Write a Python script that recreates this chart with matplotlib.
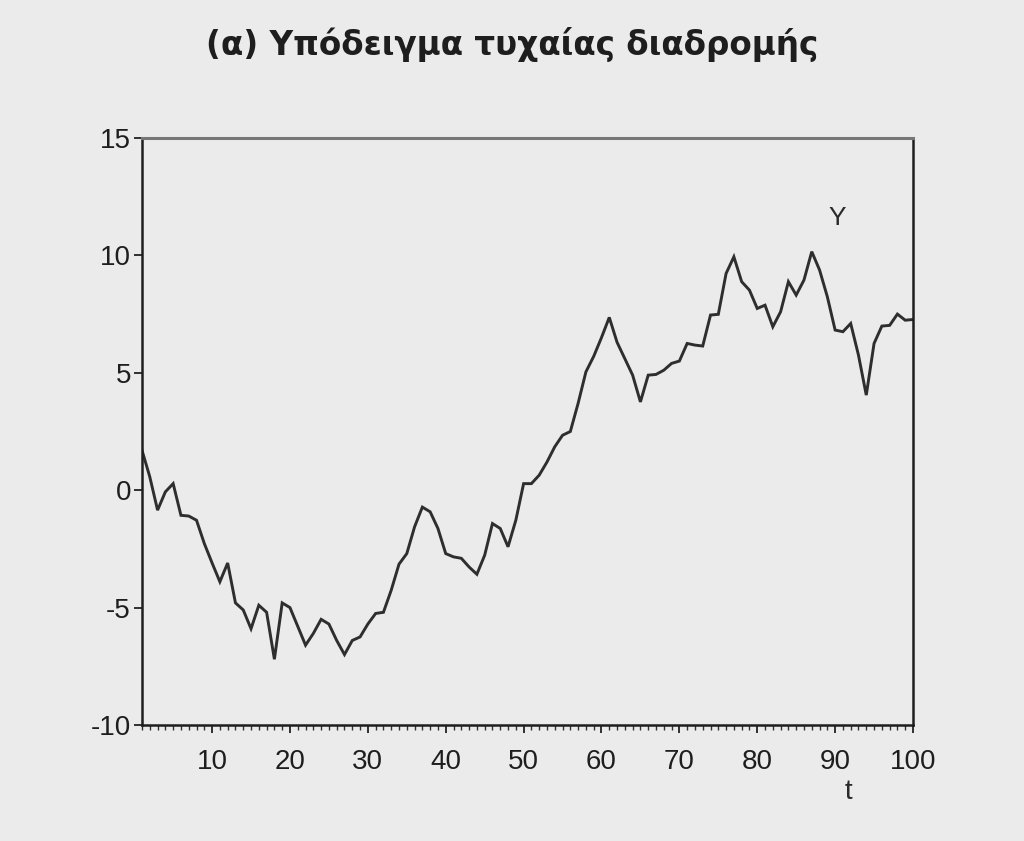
import matplotlib
matplotlib.use("Agg")
import matplotlib.pyplot as plt
from matplotlib.ticker import MultipleLocator

plt.rcParams["axes.unicode_minus"] = False

# ---- data ----
t = list(range(1, 101))
y_values = [
    1.7, 0.57, -0.85, -0.07, 0.28, -1.07, -1.10, -1.28, -2.27, -3.10,
    -3.90, -3.10, -4.80, -5.10, -5.90, -4.90, -5.20, -7.20, -4.80, -5.00,
    -5.80, -6.60, -6.10, -5.50, -5.70, -6.40, -7.00, -6.40, -6.25, -5.70,
    -5.25, -5.20, -4.26, -3.15, -2.70, -1.56, -0.72, -0.92, -1.63, -2.70,
    -2.84, -2.90, -3.27, -3.58, -2.77, -1.42, -1.63, -2.41, -1.28, 0.28,
    0.28, 0.64, 1.20, 1.85, 2.34, 2.50, 3.70, 5.04, 5.70, 6.50,
    7.36, 6.30, 5.60, 4.90, 3.76, 4.90, 4.93, 5.11, 5.40, 5.50,
    6.25, 6.18, 6.14, 7.46, 7.49, 9.23, 9.94, 8.88, 8.52, 7.74,
    7.88, 6.96, 7.60, 8.88, 8.31, 8.95, 10.16, 9.38, 8.24, 6.82,
    6.75, 7.10, 5.75, 4.05, 6.25, 6.99, 7.02, 7.50, 7.24, 7.27,
]
x_ticks = [10, 20, 30, 40, 50, 60, 70, 80, 90, 100]
y_ticks = [-10, -5, 0, 5, 10, 15]
title = "(α) Υπόδειγμα τυχαίας διαδρομής"
series_label = "Y"
x_label = "t"

bg = "#ebebeb"
fig = plt.figure(figsize=(10.24, 8.41), dpi=100, facecolor=bg)
ax = fig.add_axes([142 / 1024, 1 - 725 / 841, (913 - 142) / 1024, (725 - 138) / 841])
ax.set_facecolor(bg)

ax.plot(t, y_values, color="#2e2e2e", lw=2.1, solid_joinstyle="miter")

ax.set_xlim(1, 100)
ax.set_ylim(-10, 15)
ax.set_xticks(x_ticks)
ax.set_yticks(y_ticks)
ax.xaxis.set_minor_locator(MultipleLocator(1))

for s in ["left", "bottom", "right"]:
    ax.spines[s].set_color("#1e1e1e")
    ax.spines[s].set_linewidth(1.8)
ax.spines["top"].set_color("#777777")
ax.spines["top"].set_linewidth(2.2)

ax.tick_params(axis="both", which="major", direction="out", length=6, width=1.3,
               colors="#222222")
ax.tick_params(axis="x", which="major", pad=11)
ax.tick_params(axis="x", which="minor", direction="out", length=3.5, width=1.0,
               colors="#333333")
ax.tick_params(axis="y", which="major", pad=2)
for lab in ax.get_xticklabels() + ax.get_yticklabels():
    lab.set_fontfamily("Liberation Sans")
    lab.set_fontsize(20)
    lab.set_color("#1e1e1e")

fig.text(0.5, 1 - 45 / 841, title, ha="center", va="center",
         fontsize=23.5, fontweight="bold", family="DejaVu Sans", color="#1e1e1e")

ax.text(90.3, 11.6, series_label, ha="center", va="center",
        fontsize=19, family="Liberation Sans", color="#2a2a2a")
fig.text(848 / 1024, 1 - 792 / 841, x_label, ha="center", va="center",
         fontsize=20, family="Liberation Sans", color="#2a2a2a")

fig.savefig("out.png", dpi=100, facecolor=bg)
